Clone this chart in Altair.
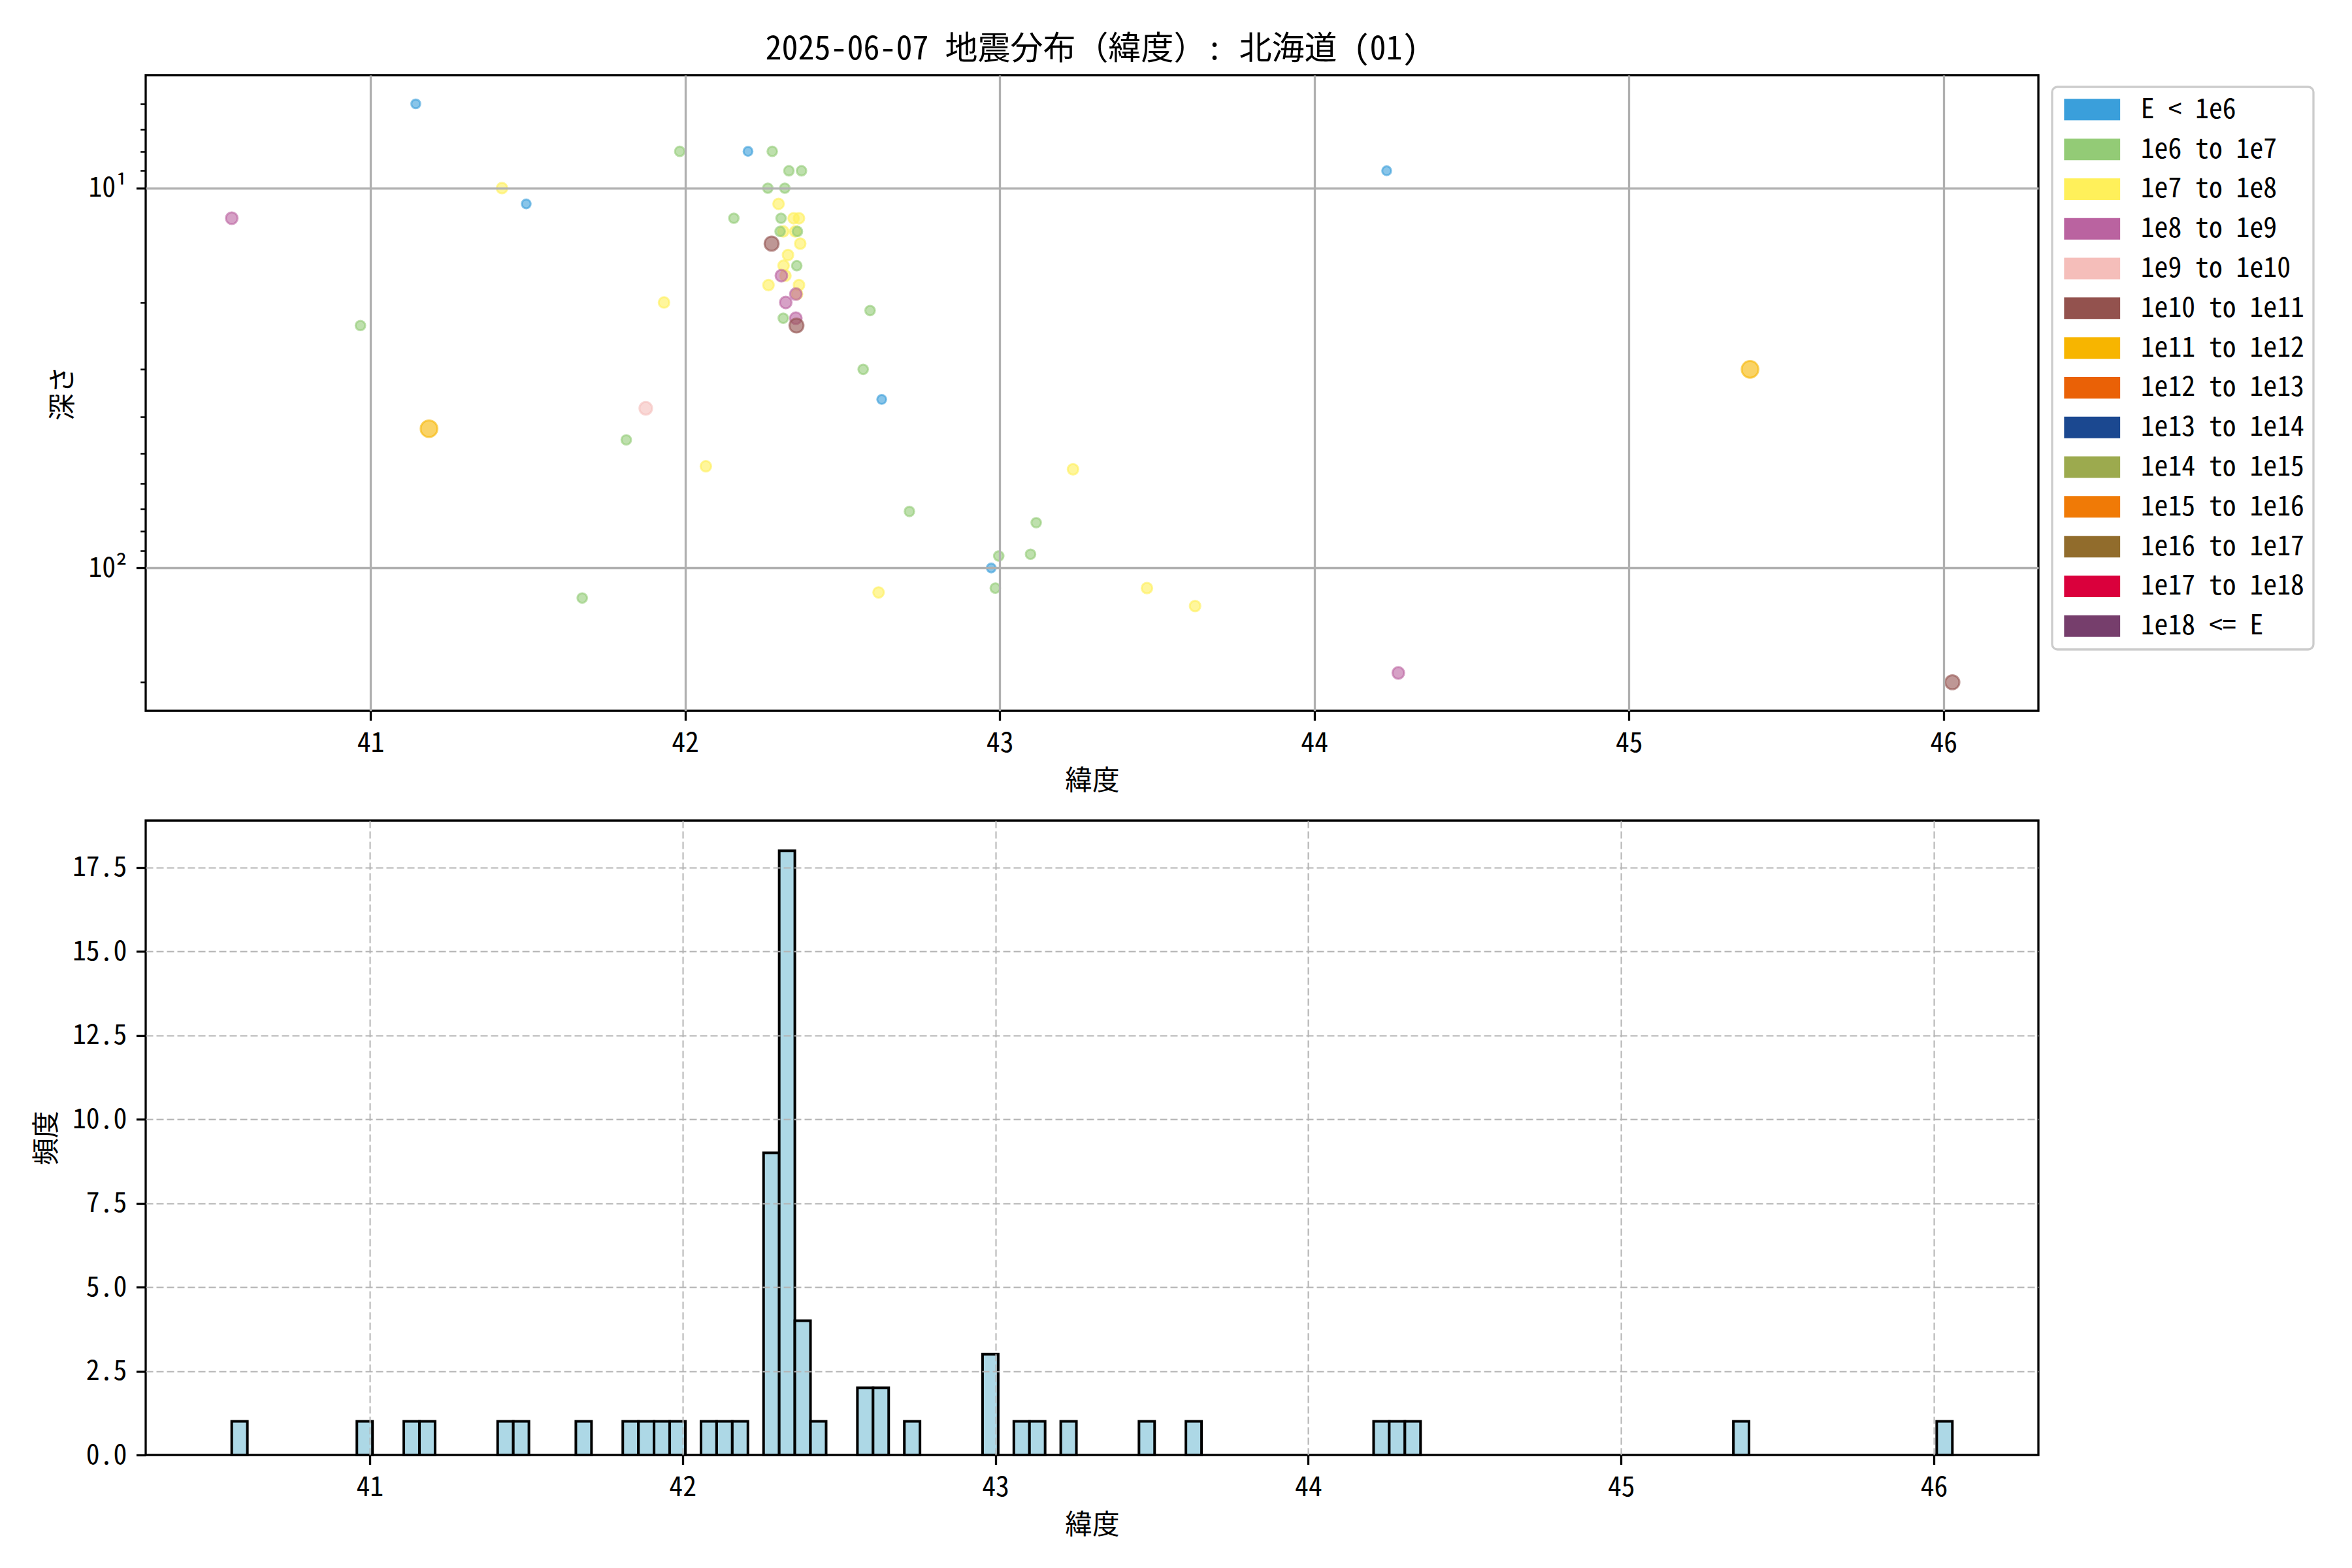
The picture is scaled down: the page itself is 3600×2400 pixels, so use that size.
import altair as alt
import pandas as pd

FONT = "Noto Sans Mono CJK JP, Noto Sans CJK JP, sans-serif"

CLASSES = ["E < 1e6", "1e6 to 1e7", "1e7 to 1e8", "1e8 to 1e9", "1e9 to 1e10",
           "1e10 to 1e11", "1e11 to 1e12", "1e12 to 1e13", "1e13 to 1e14",
           "1e14 to 1e15", "1e15 to 1e16", "1e16 to 1e17", "1e17 to 1e18", "1e18 <= E"]
COLORS = ["#3A9FDB", "#93CB76", "#FFF05A", "#BA63A0", "#F5BEBA", "#93524E", "#F7B500",
          "#EA6106", "#1B4890", "#9CAA4E", "#F07A06", "#916C2C", "#DA003C", "#763E6C"]
SIZES = [187, 216, 264, 321, 374, 468, 657, 784, 924, 1076, 1240, 1417, 1606, 1810]

# latitude, depth (km; 0 = not drawable on a log axis), energy class index
LAT = [40.559, 40.968, 41.144, 41.186, 41.418, 41.495, 41.673, 41.813, 41.875, 41.933,
       41.983, 42.066, 42.155, 42.200, 42.566, 42.588, 42.625, 42.615, 42.713, 42.997,
       42.973, 42.986, 43.098, 43.116, 43.233, 43.468, 43.621, 44.230, 44.267, 45.385,
       46.028,
       # cluster: yellow first, then green, purple, brown
       42.297, 42.265, 42.345, 42.312, 42.350, 42.327, 42.313, 42.319, 42.356, 42.362,
       42.366, 42.362,
       42.277, 42.263, 42.305, 42.302, 42.330, 42.317, 42.357, 42.355, 42.312, 42.370,
       42.306, 42.352, 42.320, 42.352,
       42.275, 42.354,
       # depth 0 events
       42.285, 42.335, 42.340, 42.430, 44.330]
DEPTH = [12, 23, 6, 43, 10, 11, 120, 46, 38, 20,
         8, 54, 12, 8, 30, 21, 36, 116, 71, 93,
         100, 113, 92, 76, 55, 113, 126, 9, 189, 30,
         200,
         11, 18, 12, 13, 13, 15, 16, 17, 19, 12,
         14, 18,
         8, 10, 12, 13, 9, 10, 13, 16, 22, 9,
         17, 19, 20, 22,
         14, 23,
         0, 0, 0, 0, 0]
CLS = [3, 1, 0, 6, 2, 0, 1, 1, 4, 2,
       1, 2, 1, 0, 1, 1, 0, 2, 1, 1,
       0, 1, 1, 1, 2, 2, 2, 0, 3, 6,
       5,
       2, 2, 2, 2, 2, 2, 2, 2, 2, 2,
       2, 2,
       1, 1, 1, 1, 1, 1, 1, 1, 1, 1,
       3, 3, 3, 3,
       5, 5,
       1, 1, 1, 1, 1]

DEPTH_TICKS = [6, 7, 8, 9, 10, 20, 30, 40, 50, 60, 70, 80, 90, 100, 200]
LAT_TICKS = [41, 42, 43, 44, 45, 46]
COUNT_TICKS = [0, 2.5, 5, 7.5, 10, 12.5, 15, 17.5]

df = pd.DataFrame({"lat": LAT, "depth": DEPTH, "cls": [CLASSES[i] for i in CLS]})

FS = 41.7
major = "datum.value == 10 || datum.value == 100"

common_axis = dict(labelFontSize=FS, titleFontSize=FS, titleFontWeight="normal",
                   labelColor="black", titleColor="black", tickColor="black",
                   domain=False, tickWidth=3.3, tickSize=14.6, labelPadding=14.6,
                   titlePadding=16.7, zindex=1)

top = alt.Chart(df).transform_filter("datum.depth > 0").mark_circle(
    opacity=1, fillOpacity=0.6, strokeOpacity=0.6, strokeWidth=3
).encode(
    x=alt.X("lat:Q", scale=alt.Scale(domain=[40.2855, 46.3015], nice=False, zero=False),
            axis=alt.Axis(values=LAT_TICKS, format="d", title="緯度", grid=True,
                          gridColor="#b0b0b0", gridWidth=3.3, **common_axis)),
    y=alt.Y("depth:Q", scale=alt.Scale(type="log", domain=[5.04, 237.8], reverse=True, nice=False),
            axis=alt.Axis(values=DEPTH_TICKS, title="深さ",
                          labelExpr="datum.value == 10 ? '10¹' : (datum.value == 100 ? '10²' : '')",
                          grid=True, gridColor="#b0b0b0", gridWidth=3.3,
                          gridOpacity={"condition": {"test": major, "value": 1}, "value": 0},
                          **{**common_axis,
                             "tickSize": {"condition": {"test": major, "value": 14.6}, "value": 8.3},
                             "tickWidth": {"condition": {"test": major, "value": 3.3}, "value": 2.5}})),
    color=alt.Color("cls:N", scale=alt.Scale(domain=CLASSES, range=COLORS),
                    legend=alt.Legend(title=None, orient="none", legendX=2918, legendY=18,
                                      labelFontSize=FS, labelOffset=80, labelColor="black",
                                      labelLimit=0,
                                      symbolType="M-1,-1L4.2,-1L4.2,1L-1,1Z",
                                      symbolSize=1089, symbolStrokeWidth=0, symbolOpacity=1,
                                      rowPadding=17.8, padding=14, strokeColor="#cccccc",
                                      cornerRadius=8, fillColor="white")),
    stroke=alt.Stroke("cls:N", scale=alt.Scale(domain=CLASSES, range=COLORS), legend=None),
    size=alt.Size("cls:O", scale=alt.Scale(type="ordinal", domain=CLASSES, range=SIZES), legend=None),
).properties(
    width=2897, height=973,
    title=alt.TitleParams("2025-06-07 地震分布（緯度）: 北海道 (01)", fontSize=50,
                          fontWeight="normal", anchor="middle", offset=-36,
                          baseline="bottom", frame="group", color="black"),
)

hist = alt.Chart(df).transform_bin(
    ["b0", "b1"], "lat", bin=alt.Bin(extent=[40.559, 46.059], step=0.05, nice=False)
).transform_aggregate(
    count="count()", groupby=["b0", "b1"]
).mark_rect(fill="#add8e6", stroke="black", strokeWidth=4).encode(
    x=alt.X("b0:Q", scale=alt.Scale(domain=[40.284, 46.334], nice=False, zero=False),
            axis=alt.Axis(values=LAT_TICKS, format="d", title="緯度", grid=True,
                          gridColor="#b3b3b3", gridWidth=2, gridDash=[11, 5], **common_axis)),
    x2="b1:Q",
    y=alt.Y("count:Q", scale=alt.Scale(domain=[0, 18.9], nice=False),
            axis=alt.Axis(values=COUNT_TICKS, format=".1f", title="頻度", grid=True,
                          gridColor="#b3b3b3", gridWidth=2, gridDash=[11, 5],
                          gridOpacity={"condition": {"test": "datum.value == 0", "value": 0}, "value": 1},
                          **common_axis)),
    y2=alt.datum(0),
).properties(width=2897, height=971)

chart = alt.vconcat(top, hist, spacing=35).resolve_legend(color="independent").properties(
    padding={"left": 42, "top": 41, "right": 20, "bottom": 20}
).configure(font=FONT).configure_view(stroke="black", strokeWidth=3.3).configure_legend(
    strokeWidth=3.3
)

chart.save("out.html", embed_options={"renderer": "svg", "actions": False})
